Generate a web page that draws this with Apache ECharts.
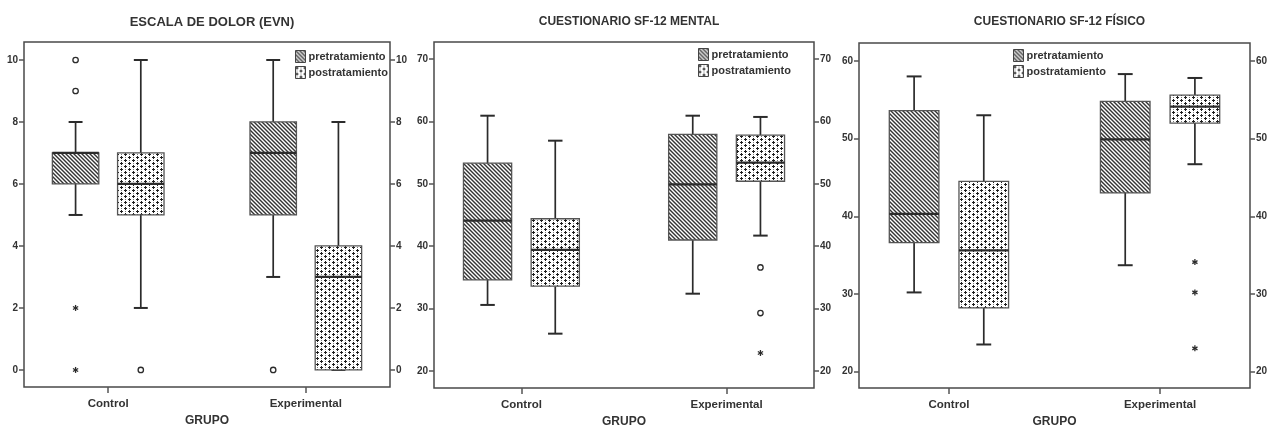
<!DOCTYPE html>
<html>
<head>
<meta charset="utf-8">
<script src="https://cdn.jsdelivr.net/npm/echarts@6/dist/echarts.min.js"></script>
<style>
  html, body { margin: 0; padding: 0; background: #fff; }
  #chart { width: 1273px; height: 428px; }
</style>
</head>
<body>
<div id="chart"></div>
<script>
// grupos y series
const groups = ['Control', 'Experimental']
const treatments = ['pretratamiento', 'postratamiento']

// [min, q1, mediana, q3, max] por grupo
const evnPre = [[5, 6, 7, 7, 8], [3, 5, 7, 8, 10]]
const evnPost = [[2, 5, 6, 7, 10], [0, 0, 3, 4, 8]]
// [grupo, tratamiento, valor, tipo 0=circulo 1=estrella]
const evnOut = [[0, 0, 10, 0], [0, 0, 9, 0], [0, 0, 2, 1], [0, 0, 0, 1], [0, 1, 0, 0], [1, 0, 0, 0]]

const mentalPre = [[30.6, 34.6, 44.1, 53.3, 60.9], [32.4, 41.0, 49.9, 57.9, 60.9]]
const mentalPost = [[26.0, 33.6, 39.4, 44.4, 56.9], [41.7, 50.4, 53.4, 57.8, 60.7]]
const mentalOut = [[1, 1, 36.6, 0], [1, 1, 29.3, 0], [1, 1, 22.9, 1]]

const fisicoPre = [[30.2, 36.6, 40.3, 53.6, 58.0], [33.7, 43.0, 49.9, 54.8, 58.3]]
const fisicoPost = [[23.5, 28.2, 35.6, 44.5, 53.0], [46.7, 52.0, 54.1, 55.6, 57.8]]
const fisicoOut = [[1, 1, 34.1, 1], [1, 1, 30.2, 1], [1, 1, 23.0, 1]]

const evnTicks = [0, 2, 4, 6, 8, 10]
const mentalTicks = [20, 30, 40, 50, 60, 70]
const fisicoTicks = [20, 30, 40, 50, 60]

const FONT = "'Liberation Sans Narrow', 'Arial Narrow', 'Liberation Sans', Arial, sans-serif"
const INK = '#2b2b2b'
const OFF = 0.165   // desplazamiento de cada caja respecto al grupo
const BOXW = 0.235  // ancho de caja (unidades del eje x)

function hatchPattern() {
  const c = document.createElement('canvas')
  c.width = 4; c.height = 4
  const ctx = c.getContext('2d')
  ctx.fillStyle = '#fff'
  ctx.fillRect(0, 0, 4, 4)
  ctx.strokeStyle = '#333'
  ctx.lineWidth = 1.4
  for (let k = -1; k <= 1; k++) {
    ctx.beginPath()
    ctx.moveTo(k * 4 - 1, -1)
    ctx.lineTo(k * 4 + 5, 5)
    ctx.stroke()
  }
  return { image: c, repeat: 'repeat' }
}

function plusPattern() {
  const c = document.createElement('canvas')
  c.width = 8; c.height = 6
  const ctx = c.getContext('2d')
  ctx.fillStyle = '#fff'
  ctx.fillRect(0, 0, 8, 6)
  ctx.fillStyle = '#1e1e1e'
  ctx.fillRect(0, 1, 3, 1); ctx.fillRect(1, 0, 1, 3)
  ctx.fillRect(4, 4, 3, 1); ctx.fillRect(5, 3, 1, 3)
  ctx.fillStyle = '#777'
  ctx.fillRect(5, 1, 1, 1); ctx.fillRect(1, 4, 1, 1)
  return { image: c, repeat: 'repeat' }
}

const fills = [hatchPattern(), plusPattern()]

function renderBox(t) {
  return function (params, api) {
    const x = api.value(0) + (t === 0 ? -OFF : OFF)
    const lo = api.value(1), q1 = api.value(2), md = api.value(3), q3 = api.value(4), hi = api.value(5)
    const w = api.size([BOXW, 0])[0]
    const cap = w * 0.15
    const pHi = api.coord([x, hi]), pQ3 = api.coord([x, q3]), pMd = api.coord([x, md])
    const pQ1 = api.coord([x, q1]), pLo = api.coord([x, lo])
    const line = { stroke: INK, lineWidth: 1.7 }
    return {
      type: 'group',
      children: [
        { type: 'line', shape: { x1: pHi[0], y1: pHi[1], x2: pQ3[0], y2: pQ3[1] }, style: line },
        { type: 'line', shape: { x1: pQ1[0], y1: pQ1[1], x2: pLo[0], y2: pLo[1] }, style: line },
        { type: 'line', shape: { x1: pHi[0] - cap, y1: pHi[1], x2: pHi[0] + cap, y2: pHi[1] }, style: { stroke: INK, lineWidth: 2 } },
        { type: 'line', shape: { x1: pLo[0] - cap, y1: pLo[1], x2: pLo[0] + cap, y2: pLo[1] }, style: { stroke: INK, lineWidth: 2 } },
        {
          type: 'rect',
          shape: { x: pQ3[0] - w / 2, y: pQ3[1], width: w, height: pQ1[1] - pQ3[1] },
          style: { fill: fills[t], stroke: '#555', lineWidth: 1.3 }
        },
        { type: 'line', shape: { x1: pMd[0] - w / 2, y1: pMd[1], x2: pMd[0] + w / 2, y2: pMd[1] }, style: { stroke: INK, lineWidth: 2.2 } }
      ]
    }
  }
}

function renderOutlier(params, api) {
  const x = api.value(0) + (api.value(1) === 0 ? -OFF : OFF)
  const p = api.coord([x, api.value(2)])
  if (api.value(3) === 0) {
    return { type: 'circle', shape: { cx: p[0], cy: p[1], r: 2.7 }, style: { fill: '#fff', stroke: INK, lineWidth: 1.3 } }
  }
  const r = 3
  const kids = [0, 60, 120].map(function (a) {
    const rad = a * Math.PI / 180
    const dx = Math.sin(rad) * r, dy = Math.cos(rad) * r
    return { type: 'line', shape: { x1: p[0] - dx, y1: p[1] - dy, x2: p[0] + dx, y2: p[1] + dy }, style: { stroke: INK, lineWidth: 1.3 } }
  })
  return { type: 'group', children: kids }
}

const panels = [
  { title: 'ESCALA DE DOLOR (EVN)', titleSize: 13, grid: [24, 42, 366, 345], y: [-0.55, 10.58], ticks: evnTicks, pre: evnPre, post: evnPost, out: evnOut, legend: [295, 50] },
  { title: 'CUESTIONARIO SF-12 MENTAL', titleSize: 12, grid: [434, 42, 380, 346], y: [17.3, 72.7], ticks: mentalTicks, pre: mentalPre, post: mentalPost, out: mentalOut, legend: [698, 48] },
  { title: 'CUESTIONARIO SF-12 FÍSICO', titleSize: 12, grid: [859, 43, 391, 345], y: [17.9, 62.3], ticks: fisicoTicks, pre: fisicoPre, post: fisicoPost, out: fisicoOut, legend: [1013, 49] }
]

const labelStyle = { color: '#333', fontFamily: FONT, fontWeight: 'bold' }
const option = { animation: false, backgroundColor: '#fff', title: [], grid: [], xAxis: [], yAxis: [], legend: [], series: [] }

panels.forEach(function (p, i) {
  option.title.push({
    text: p.title, left: p.grid[0] + p.grid[2] / 2, top: 11, textAlign: 'center',
    textStyle: { fontSize: p.titleSize, fontWeight: 'bold', color: '#333', fontFamily: FONT }
  })
  option.grid.push({
    left: p.grid[0], top: p.grid[1], width: p.grid[2], height: p.grid[3],
    outerBoundsMode: 'none', containLabel: false,
    show: true, borderColor: '#4a4a4a', borderWidth: 1.5, backgroundColor: '#fff'
  })
  option.xAxis.push({
    type: 'value', gridIndex: i, min: -0.426, max: 1.426,
    name: 'GRUPO', nameLocation: 'middle', nameGap: 25,
    nameTextStyle: Object.assign({ fontSize: 12 }, labelStyle),
    axisLine: { show: false, onZero: false }, splitLine: { show: false },
    axisTick: { customValues: [0, 1], length: 6, lineStyle: { color: '#555', width: 1.5 } },
    axisLabel: Object.assign({ customValues: [0, 1], fontSize: 11.5, margin: 11, formatter: function (v) { return groups[Math.round(v)] } }, labelStyle)
  })
  ;['left', 'right'].forEach(function (pos) {
    option.yAxis.push({
      type: 'value', gridIndex: i, position: pos, min: p.y[0], max: p.y[1],
      axisLine: { show: false, onZero: false }, splitLine: { show: false },
      axisTick: { customValues: p.ticks, length: 5, lineStyle: { color: '#555', width: 1.5 } },
      axisLabel: Object.assign({ customValues: p.ticks, fontSize: 10, margin: 6 }, labelStyle)
    })
  })
  option.legend.push({
    left: p.legend[0], top: p.legend[1], orient: 'vertical', padding: 0,
    itemWidth: 10, itemHeight: 12, itemGap: 3, selectedMode: false,
    textStyle: Object.assign({ fontSize: 11, padding: [0, 0, 0, -2] }, labelStyle),
    data: treatments.map(function (name, t) {
      return { name: name, icon: 'rect', itemStyle: { color: fills[t], borderColor: '#444', borderWidth: 1 } }
    })
  })
  ;[p.pre, p.post].forEach(function (vals, t) {
    option.series.push({
      type: 'custom', name: treatments[t], xAxisIndex: i, yAxisIndex: i * 2,
      itemStyle: { color: fills[t] },
      renderItem: renderBox(t),
      encode: { x: 0, y: [1, 2, 3, 4, 5] },
      data: vals.map(function (v, g) { return [g].concat(v) })
    })
  })
  option.series.push({
    type: 'custom', name: 'atipicos', xAxisIndex: i, yAxisIndex: i * 2,
    renderItem: renderOutlier, encode: { x: 0, y: 2 },
    data: p.out
  })
})

const chart = echarts.init(document.getElementById('chart'))
chart.setOption(option)
</script>
</body>
</html>
